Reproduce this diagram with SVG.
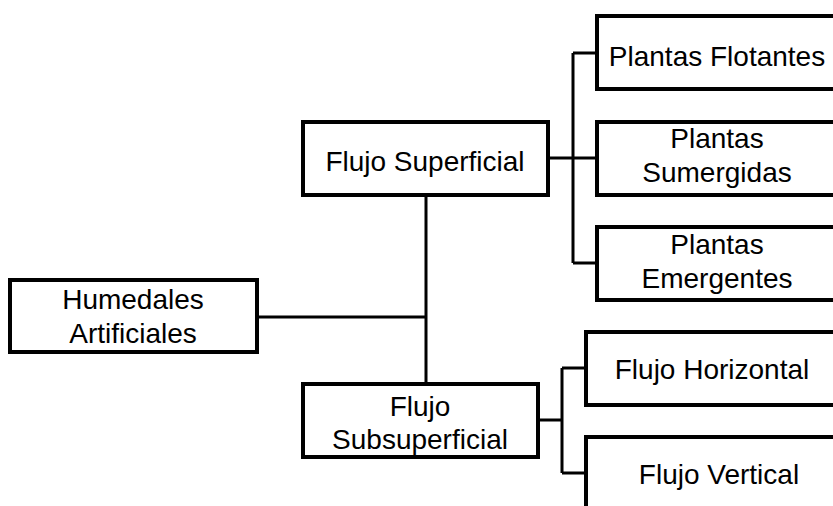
<svg xmlns="http://www.w3.org/2000/svg" width="833" height="506" viewBox="0 0 833 506">
<style>
.box{fill:#fff;stroke:#000;stroke-width:4}
.ln{fill:none;stroke:#000;stroke-width:3}
text{font-family:"Liberation Sans",Arial,sans-serif;font-size:28px;fill:#000;text-anchor:middle}
</style>
<rect width="833" height="506" fill="#fff"/>
<g id="connectors">
<path class="ln" d="M257 317 H426 M426 195 V384"/>
<path class="ln" d="M548 158 H597 M573 53 V263 M573 53 H597 M573 263 H597"/>
<path class="ln" d="M538 420 H562 M562 368 V473 M562 368 H586 M562 473 H586"/>
</g>
<g id="humedales">
<rect class="box" x="10" y="280" width="247" height="72"/>
<text x="133" y="309">Humedales</text>
<text x="133" y="343">Artificiales</text>
</g>
<g id="flujo-superficial">
<rect class="box" x="303" y="122" width="245" height="73"/>
<text x="425" y="171">Flujo Superficial</text>
</g>
<g id="flujo-subsuperficial">
<rect class="box" x="303" y="384" width="235" height="73"/>
<text x="420" y="416">Flujo</text>
<text x="420" y="449">Subsuperficial</text>
</g>
<g id="plantas-flotantes">
<rect class="box" x="597" y="16" width="260" height="73"/>
<text x="717" y="66">Plantas Flotantes</text>
</g>
<g id="plantas-sumergidas">
<rect class="box" x="597" y="122" width="260" height="73"/>
<text x="717" y="148">Plantas</text>
<text x="717" y="182">Sumergidas</text>
</g>
<g id="plantas-emergentes">
<rect class="box" x="597" y="227" width="260" height="73"/>
<text x="717" y="254">Plantas</text>
<text x="717" y="288">Emergentes</text>
</g>
<g id="flujo-horizontal">
<rect class="box" x="586" y="332" width="270" height="73"/>
<text x="712" y="379">Flujo Horizontal</text>
</g>
<g id="flujo-vertical">
<rect class="box" x="586" y="437" width="270" height="90"/>
<text x="719" y="484">Flujo Vertical</text>
</g>
</svg>
